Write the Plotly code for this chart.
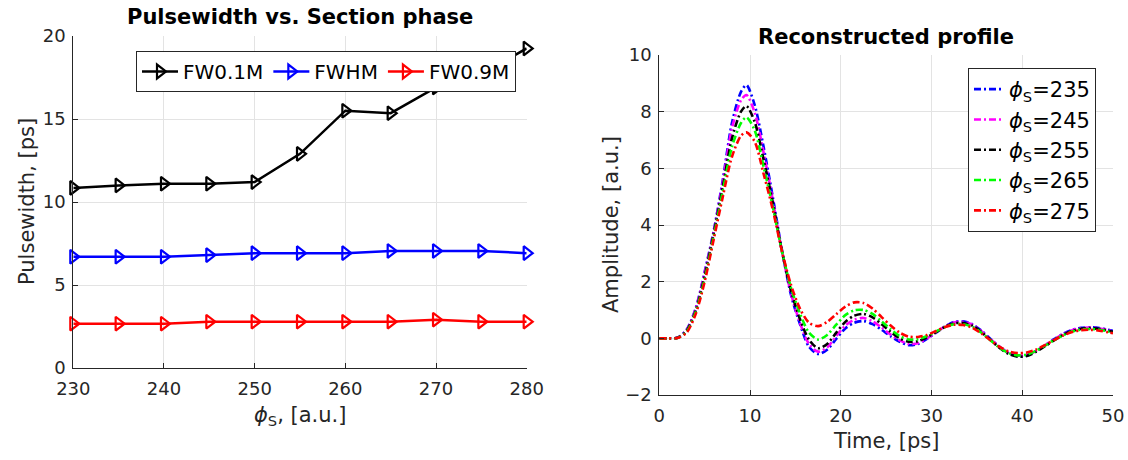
import plotly.graph_objects as go

# ---- Left panel: pulse width vs. section phase ----
phase = [230, 235, 240, 245, 250, 255, 260, 265, 270, 275, 280]
fw01m = [10.85, 11.0, 11.1, 11.1, 11.2, 12.9, 15.5, 15.35, 16.9, 17.7, 19.25]
fwhm = [6.7, 6.7, 6.7, 6.8, 6.92, 6.92, 6.92, 7.05, 7.05, 7.05, 6.92]
fw09m = [2.67, 2.67, 2.67, 2.79, 2.79, 2.79, 2.79, 2.79, 2.91, 2.79, 2.79]

# ---- Right panel: reconstructed pulse profiles ----
t = [0, 1, 2, 3, 4, 5, 6, 7, 8, 9, 9.6, 10.5, 11.5, 12.5, 13.5, 14.5, 15.5, 16.5,
     17.5, 18.5, 19.5, 20.5, 21.5, 22.5, 23.5, 24.5, 25.5, 26.5, 27.5, 28.5, 29.5,
     30.5, 31.5, 32.5, 33.5, 34.5, 35.5, 36.5, 37.5, 38.5, 39.5, 40.5, 41.5, 42.5,
     43.5, 44.5, 45.5, 46.5, 47.5, 48.5, 49.5, 50]
amp_235 = [0, 0, 0.02, 0.3, 1.05, 2.35, 3.8, 5.6, 7.6, 8.7, 8.94, 8.25, 6.75, 5.0, 3.15,
           1.55, 0.5, -0.3, -0.55, -0.4, -0.02, 0.35, 0.55, 0.61, 0.5, 0.3, 0.07, -0.12,
           -0.24, -0.2, -0.02, 0.2, 0.42, 0.58, 0.6, 0.5, 0.27, -0.02, -0.3, -0.52, -0.63,
           -0.6, -0.45, -0.25, -0.03, 0.16, 0.3, 0.37, 0.39, 0.36, 0.3, 0.26]
amp_245 = [0, 0, 0.02, 0.28, 1.02, 2.3, 3.75, 5.5, 7.4, 8.4, 8.59, 7.98, 6.55, 4.9, 3.1,
           1.6, 0.55, -0.2, -0.47, -0.32, 0.08, 0.45, 0.66, 0.72, 0.6, 0.38, 0.13, -0.07,
           -0.2, -0.17, 0.0, 0.2, 0.42, 0.56, 0.58, 0.48, 0.25, -0.03, -0.3, -0.51, -0.61,
           -0.59, -0.45, -0.25, -0.04, 0.15, 0.29, 0.36, 0.38, 0.35, 0.29, 0.25]
amp_255 = [0, 0, 0.02, 0.26, 0.97, 2.2, 3.7, 5.35, 7.05, 8.0, 8.2, 7.65, 6.3, 4.8, 3.1,
           1.7, 0.68, -0.05, -0.35, -0.2, 0.2, 0.58, 0.8, 0.86, 0.74, 0.5, 0.23, 0.0,
           -0.12, -0.1, 0.04, 0.22, 0.41, 0.53, 0.54, 0.45, 0.22, -0.06, -0.34, -0.55, -0.65,
           -0.62, -0.48, -0.28, -0.07, 0.12, 0.26, 0.34, 0.36, 0.33, 0.27, 0.23]
amp_265 = [0, 0, 0.01, 0.23, 0.92, 2.1, 3.6, 5.2, 6.75, 7.6, 7.8, 7.35, 6.05, 4.65, 3.1,
           1.8, 0.88, 0.2, -0.04, 0.12, 0.48, 0.82, 0.99, 1.0, 0.86, 0.6, 0.32, 0.08,
           -0.04, -0.03, 0.08, 0.24, 0.4, 0.5, 0.5, 0.41, 0.2, -0.07, -0.33, -0.52, -0.6,
           -0.57, -0.44, -0.26, -0.06, 0.11, 0.24, 0.31, 0.33, 0.3, 0.24, 0.2]
amp_275 = [0, 0, 0.01, 0.2, 0.85, 2.0, 3.5, 5.0, 6.4, 7.15, 7.27, 6.95, 5.8, 4.55, 3.1,
           1.9, 1.05, 0.55, 0.43, 0.58, 0.85, 1.12, 1.27, 1.25, 1.05, 0.75, 0.45, 0.2,
           0.06, 0.05, 0.12, 0.26, 0.4, 0.48, 0.47, 0.37, 0.17, -0.07, -0.3, -0.46, -0.52,
           -0.5, -0.4, -0.24, -0.06, 0.1, 0.22, 0.29, 0.3, 0.27, 0.21, 0.18]

profile_phases = [235, 245, 255, 265, 275]
profile_colors = ["#0000ff", "#ff00ff", "#000000", "#00ff00", "#ff0000"]
profiles = [amp_235, amp_245, amp_255, amp_265, amp_275]

FONT = "DejaVu Sans"
AXIS_COLOR = "#262626"
GRID_COLOR = "#e3e3e3"

fig = go.Figure()

for name, ys, col in [("FW0.1M", fw01m, "#000000"),
                      ("FWHM", fwhm, "#0000ff"),
                      ("FW0.9M", fw09m, "#ff0000")]:
    fig.add_trace(go.Scatter(
        x=phase, y=ys, name=name, mode="lines+markers",
        line=dict(color=col, width=2.5),
        marker=dict(symbol="triangle-right-open", size=12, color=col,
                    line=dict(color=col, width=2.2)),
        xaxis="x", yaxis="y", legend="legend", cliponaxis=False,
    ))

for ph, ys, col in zip(profile_phases, profiles, profile_colors):
    fig.add_trace(go.Scatter(
        x=t, y=ys, name=f"<i>ϕ</i><sub>S</sub>={ph}", mode="lines",
        line=dict(color=col, width=2.6, dash="7px,3px,2px,3px", shape="spline", smoothing=0.8),
        xaxis="x2", yaxis="y2", legend="legend2",
    ))

W, H = 1128, 460
L_x0, L_x1, L_y0, L_y1 = 73.3, 526.7, 36, 368
R_x0, R_x1, R_y0, R_y1 = 659.3, 1113, 55, 395


def ax_common(standoff):
    return dict(
        automargin=False,
        showline=True, linecolor=AXIS_COLOR, linewidth=1,
        ticks="inside", ticklen=5, tickcolor=AXIS_COLOR, tickwidth=1,
        ticklabelstandoff=standoff,
        showgrid=True, gridcolor=GRID_COLOR, gridwidth=1,
        zeroline=False, mirror=False,
        tickfont=dict(family=FONT, size=18, color=AXIS_COLOR),
    )


fig.update_layout(
    width=W, height=H,
    margin=dict(l=0, r=0, t=0, b=0, autoexpand=False),
    paper_bgcolor="white", plot_bgcolor="white",
    font=dict(family=FONT, color=AXIS_COLOR),
    xaxis=dict(domain=[L_x0 / W, L_x1 / W], range=[230, 280], tickvals=[230, 240, 250, 260, 270, 280],
               anchor="y", **ax_common(4)),
    yaxis=dict(domain=[1 - L_y1 / H, 1 - L_y0 / H], range=[0, 20], tickvals=[0, 5, 10, 15, 20],
               anchor="x", **ax_common(3)),
    xaxis2=dict(domain=[R_x0 / W, R_x1 / W], range=[0, 50], tickvals=[0, 10, 20, 30, 40, 50],
                anchor="y2", **ax_common(4)),
    yaxis2=dict(domain=[1 - R_y1 / H, 1 - R_y0 / H], range=[-2, 10], tickvals=[-2, 0, 2, 4, 6, 8, 10],
                anchor="x2", **ax_common(3)),
    legend=dict(
        orientation="h", x=136 / W, y=1 - 51 / H, xanchor="left", yanchor="top",
        bgcolor="white", bordercolor="#262626", borderwidth=1,
        font=dict(family=FONT, size=20, color="#000000"),
        itemwidth=36, tracegroupgap=0,
    ),
    legend2=dict(
        orientation="v", x=968 / W, y=1 - 68 / H, xanchor="left", yanchor="top",
        bgcolor="white", bordercolor="#262626", borderwidth=1,
        font=dict(family=FONT, size=21, color="#000000"),
        itemwidth=30,
    ),
    showlegend=True,
)

annotations = [
    dict(text="<b>Pulsewidth vs. Section phase</b>", x=(L_x0 + L_x1) / 2 / W, y=1 - 17 / H,
         font=dict(size=21, color="#000000")),
    dict(text="<b>Reconstructed profile</b>", x=(R_x0 + R_x1) / 2 / W, y=1 - 37 / H,
         font=dict(size=21, color="#000000")),
    dict(text="<i>ϕ</i><sub>S</sub>, [a.u.]", x=(L_x0 + L_x1) / 2 / W, y=1 - 416 / H,
         font=dict(size=21, color=AXIS_COLOR)),
    dict(text="Pulsewidth, [ps]", x=27 / W, y=1 - (L_y0 + L_y1) / 2 / H, textangle=-90,
         font=dict(size=21, color=AXIS_COLOR)),
    dict(text="Time, [ps]", x=(R_x0 + R_x1) / 2 / W, y=1 - 441 / H,
         font=dict(size=21, color=AXIS_COLOR)),
    dict(text="Amplitude, [a.u.]", x=611 / W, y=1 - (R_y0 + R_y1) / 2 / H, textangle=-90,
         font=dict(size=21, color=AXIS_COLOR)),
]
for a in annotations:
    a.update(xref="paper", yref="paper", showarrow=False, xanchor="center", yanchor="middle")
    a["font"]["family"] = FONT
fig.update_layout(annotations=annotations)

fig.write_html("out.html")
